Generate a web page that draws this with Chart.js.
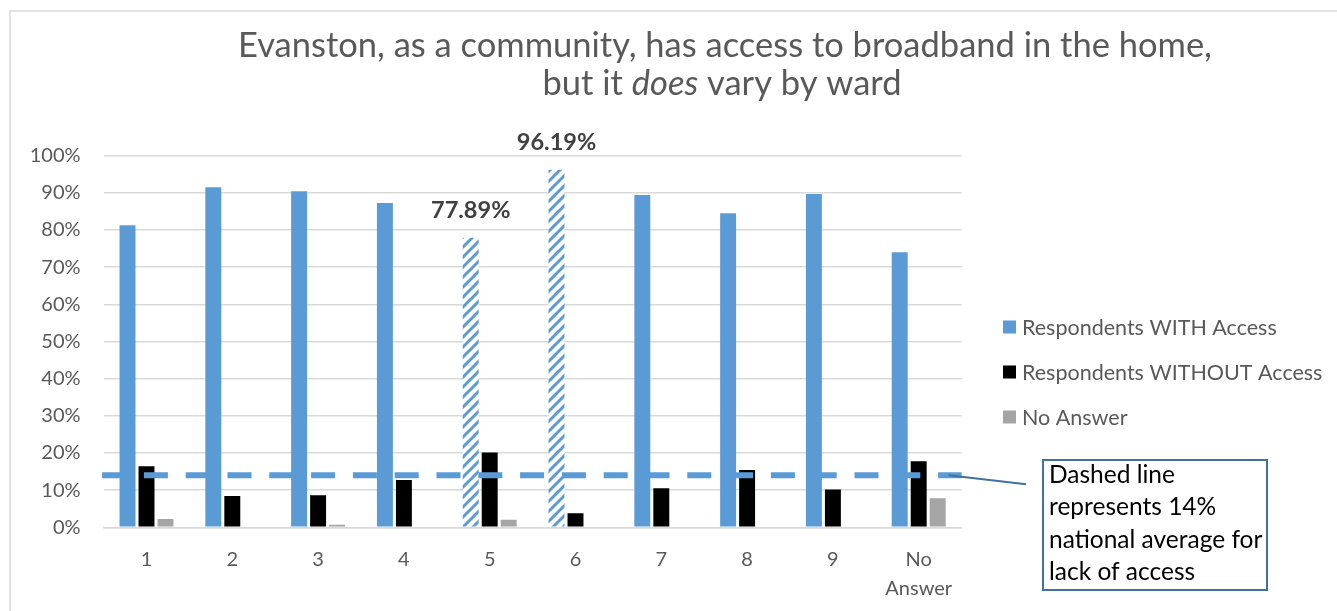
<!DOCTYPE html>
<html>
<head>
<meta charset="utf-8">
<script src="https://cdn.jsdelivr.net/npm/chart.js@4"></script>
<style>
  html, body { margin: 0; padding: 0; background: #fff; }
  #wrap { width: 1337px; height: 611px; }
</style>
</head>
<body>
<div id="wrap"><canvas id="wardChart" width="1337" height="611"></canvas></div>
<script>
const wards = ['1', '2', '3', '4', '5', '6', '7', '8', '9', ['No', 'Answer']];
const withAccess = [81.3, 91.5, 90.4, 87.3, 77.89, 96.19, 89.4, 84.5, 89.7, 74.0];
const withoutAccess = [16.4, 8.4, 8.6, 12.7, 20.1, 3.8, 10.5, 15.4, 10.2, 17.8];
const noAnswer = [2.2, 0, 0.7, 0, 2.0, 0, 0, 0, 0, 7.8];
const highlightedWards = ['5', '6'];
const nationalAverage = 14;
const noteLines = ['Dashed line', 'represents 14%', 'national average for', 'lack of access'];

const FONT = 'Lato, "Open Sans", sans-serif';
const BLUE = '#5B9BD5';
const GREY_TEXT = '#595959';

// diagonal stripe fill for the highlighted wards
function makeHatch(color) {
    const size = 10;
    const c = document.createElement('canvas');
    c.width = size; c.height = size;
    const g = c.getContext('2d');
    g.fillStyle = '#fff';
    g.fillRect(0, 0, size, size);
    g.strokeStyle = color;
    g.lineWidth = 3;
    g.beginPath();
    g.moveTo(0, size); g.lineTo(size, 0);
    g.moveTo(-size / 2, size / 2); g.lineTo(size / 2, -size / 2);
    g.moveTo(size / 2, size * 1.5); g.lineTo(size * 1.5, size / 2);
    g.stroke();
    return g.createPattern(c, 'repeat');
}

const hatch = makeHatch(BLUE);
const isHighlighted = i => highlightedWards.includes(String(wards[i]));
const blueFills = wards.map((w, i) => isHighlighted(i) ? hatch : BLUE);

const chartDecor = {
    id: 'chartDecor',
    beforeDraw(chart) {
        const ctx = chart.ctx;
        ctx.save();
        ctx.strokeStyle = '#d9d9d9';
        ctx.lineWidth = 1.5;
        ctx.strokeRect(10, 11, 1340, 620);

        // title, second line has an italic word
        ctx.fillStyle = GREY_TEXT;
        ctx.textBaseline = 'alphabetic';
        ctx.textAlign = 'center';
        ctx.font = '34.5px ' + FONT;
        ctx.fillText('Evanston, as a community, has access to broadband in the home,', 725, 57);
        const parts = [['but it ', 'normal'], ['does', 'italic'], [' vary by ward', 'normal']];
        let total = 0;
        parts.forEach(p => { ctx.font = p[1] + ' 34.5px ' + FONT; total += ctx.measureText(p[0]).width; });
        let x = 722 - total / 2;
        ctx.textAlign = 'left';
        parts.forEach(p => {
            ctx.font = p[1] + ' 34.5px ' + FONT;
            ctx.fillText(p[0], x, 95);
            x += ctx.measureText(p[0]).width;
        });
        ctx.restore();
    },
    afterDatasetsDraw(chart) {
        const ctx = chart.ctx;
        const area = chart.chartArea;
        const y = chart.scales.y.getPixelForValue(nationalAverage);
        ctx.save();

        // national average dashed line
        ctx.strokeStyle = BLUE;
        ctx.lineWidth = 6;
        ctx.setLineDash([24, 17.8]);
        ctx.beginPath();
        ctx.moveTo(area.left - 1.5, y);
        ctx.lineTo(area.right, y);
        ctx.stroke();
        ctx.setLineDash([]);

        // value labels over the highlighted bars
        const meta = chart.getDatasetMeta(0);
        ctx.fillStyle = '#404040';
        ctx.font = 'bold 23.5px ' + FONT;
        ctx.textAlign = 'center';
        ctx.textBaseline = 'middle';
        meta.data.forEach((bar, i) => {
            if (!isHighlighted(i)) return;
            ctx.fillText(withAccess[i].toFixed(2) + '%', bar.x, bar.y - 27);
        });

        // legend
        ctx.textAlign = 'left';
        ctx.font = '21.5px ' + FONT;
        chart.data.datasets.forEach((ds, i) => {
            const cy = 327 + i * 45;
            ctx.fillStyle = ds.legendColor;
            ctx.fillRect(1003, cy - 6.5, 13, 13);
            ctx.fillStyle = GREY_TEXT;
            ctx.fillText(ds.label, 1022, cy + 1);
        });

        // note box and its connector
        ctx.strokeStyle = '#41719C';
        ctx.lineWidth = 2;
        ctx.beginPath();
        ctx.moveTo(area.right - 13, y);
        ctx.lineTo(1026, y + 9);
        ctx.stroke();
        ctx.fillStyle = '#fff';
        ctx.fillRect(1043, 460, 224, 130);
        ctx.strokeRect(1043, 460, 224, 130);
        ctx.fillStyle = '#000';
        ctx.font = '24.5px ' + FONT;
        ctx.textBaseline = 'alphabetic';
        noteLines.forEach((t, i) => ctx.fillText(t, 1049, 483 + i * 32.3));
        ctx.restore();
    }
};

const ctx = document.getElementById('wardChart').getContext('2d');
const wardChart = new Chart(ctx, {
    type: 'bar',
    data: {
        labels: wards,
        datasets: [
            {
                label: 'Respondents WITH Access',
                data: withAccess,
                backgroundColor: blueFills,
                legendColor: BLUE
            },
            {
                label: 'Respondents WITHOUT Access',
                data: withoutAccess,
                backgroundColor: '#000000',
                legendColor: '#000000'
            },
            {
                label: 'No Answer',
                data: noAnswer,
                backgroundColor: '#A5A5A5',
                legendColor: '#A5A5A5'
            }
        ]
    },
    options: {
        responsive: false,
        animation: false,
        devicePixelRatio: 1,
        categoryPercentage: 0.664,
        barPercentage: 0.84,
        layout: {
            padding: { left: 10, right: 375.4, top: 155.7, bottom: 0 }
        },
        plugins: {
            legend: { display: false },
            title: { display: false },
            tooltip: { enabled: false }
        },
        scales: {
            x: {
                grid: { display: false, drawTicks: false },
                border: { color: '#d9d9d9', width: 1.5 },
                ticks: {
                    color: GREY_TEXT,
                    font: { family: FONT, size: 20, lineHeight: 1.45 },
                    padding: 17.5,
                    maxRotation: 0
                },
                afterFit: scale => { scale.height = 83.7; }
            },
            y: {
                min: 0,
                max: 100,
                grid: { color: '#d9d9d9', lineWidth: 1.5, drawTicks: false },
                border: { display: false },
                ticks: {
                    stepSize: 10,
                    color: GREY_TEXT,
                    font: { family: FONT, size: 20 },
                    padding: 23,
                    callback: v => v + '%'
                },
                afterFit: scale => { scale.width = 93.6; }
            }
        }
    },
    plugins: [chartDecor]
});
</script>
</body>
</html>
